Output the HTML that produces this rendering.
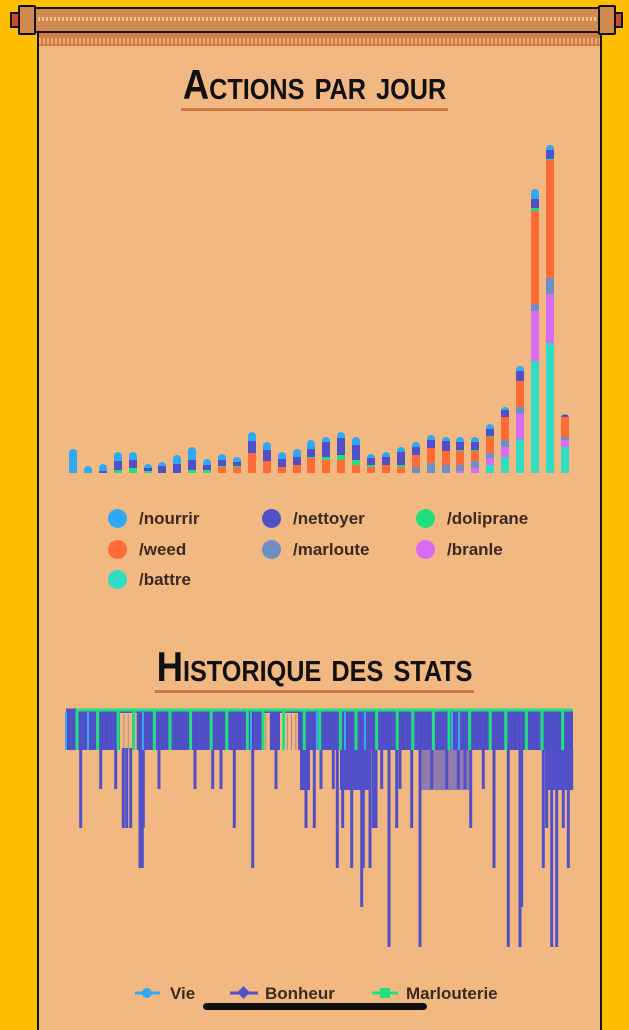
<!DOCTYPE html>
<html><head><meta charset="utf-8">
<style>
html,body{margin:0;padding:0;}
body{width:629px;height:1024px;background:#ffbf00;position:relative;overflow:hidden;font-family:"Liberation Sans",sans-serif;}
.parch{position:absolute;left:37px;top:20px;width:561px;height:1010px;background:#f2b882;border-left:2px solid #111;border-right:2px solid #111;}
.band{position:absolute;left:39px;top:32px;width:561px;height:14px;background:#cf7f45;}
.band2{position:absolute;left:39px;top:38px;width:561px;height:6px;background:repeating-linear-gradient(90deg,#e9a877 0 2px,#cf7f45 2px 4px);}
.rod{position:absolute;left:30px;top:7px;width:570px;height:22px;background:#d08a4f;border:2px solid #111;}
.rod i{position:absolute;left:2px;right:2px;top:8px;height:4px;background:repeating-linear-gradient(90deg,#f4c49a 0 2px,#d08a4f 2px 4px);}
.cap{position:absolute;top:5px;width:14px;height:26px;background:#d08a4f;border:2px solid #111;border-radius:2px;}
.knob{position:absolute;top:12px;width:6px;height:12px;background:#c84a3a;border:2px solid #111;}
.title{position:absolute;left:0;width:629px;text-align:center;font-family:"Liberation Sans",sans-serif;font-weight:bold;font-variant:small-caps;color:#111;letter-spacing:0px;transform:scaleX(0.87);transform-origin:center;}
.title span{border-bottom:3px solid #cc7a44;padding:0 2px;}
.leg{position:absolute;font-size:17px;color:#3a2a20;font-weight:bold;}
.dot{position:absolute;width:19px;height:19px;border-radius:50%;}
</style></head><body>
<div class="parch"></div>
<div class="band"></div><div class="band2"></div>
<div class="rod"><i></i></div>
<div class="knob" style="left:10px"></div><div class="cap" style="left:18px"></div>
<div class="knob" style="left:613px"></div><div class="cap" style="left:598px"></div>
<div class="title" style="top:62px;font-size:42px;line-height:46px;"><span>Actions par jour</span></div>
<div id="bars"></div>
<div class="dot" style="left:108px;top:509px;background:#2eaaf5"></div><div class="leg" style="left:139px;top:509px">/nourrir</div>
<div class="dot" style="left:262px;top:509px;background:#5150c8"></div><div class="leg" style="left:293px;top:509px">/nettoyer</div>
<div class="dot" style="left:416px;top:509px;background:#1fe07a"></div><div class="leg" style="left:447px;top:509px">/doliprane</div>
<div class="dot" style="left:108px;top:540px;background:#ff6a35"></div><div class="leg" style="left:139px;top:540px">/weed</div>
<div class="dot" style="left:262px;top:540px;background:#6d8fc4"></div><div class="leg" style="left:293px;top:540px">/marloute</div>
<div class="dot" style="left:416px;top:540px;background:#d86cf2"></div><div class="leg" style="left:447px;top:540px">/branle</div>
<div class="dot" style="left:108px;top:570px;background:#2fdcc4"></div><div class="leg" style="left:139px;top:570px">/battre</div>
<div class="title" style="top:644px;font-size:42px;line-height:46px;"><span>Historique des stats</span></div>
<svg id="hist" style="position:absolute;left:0;top:0" width="629" height="1024"></svg>
<svg style="position:absolute;left:0;top:980px" width="629" height="30">
<line x1="135" y1="13" x2="160" y2="13" stroke="#2eaaf5" stroke-width="3"/><circle cx="147" cy="13" r="5" fill="#2eaaf5"/>
<text x="170" y="19" font-size="17" fill="#3a2a20" font-weight="bold" font-family="Liberation Sans">Vie</text>
<line x1="230" y1="13" x2="258" y2="13" stroke="#5150c8" stroke-width="3"/><rect x="239" y="8" width="9" height="9" fill="#5150c8" transform="rotate(45 243.5 12.5)"/>
<text x="265" y="19" font-size="17" fill="#3a2a20" font-weight="bold" font-family="Liberation Sans">Bonheur</text>
<line x1="372" y1="13" x2="398" y2="13" stroke="#1fe07a" stroke-width="3"/><rect x="380" y="8" width="10" height="10" fill="#1fe07a"/>
<text x="406" y="19" font-size="17" fill="#3a2a20" font-weight="bold" font-family="Liberation Sans">Marlouterie</text>
</svg>
<div style="position:absolute;left:203px;top:1003px;width:224px;height:7px;border-radius:4px;background:#111"></div>
<script>
var C=["#2fdcc4","#d86cf2","#6d8fc4","#ff6a35","#1fe07a","#5150c8","#2eaaf5"];
var D=[[0,0,0,0,0,0,24],[0,0,0,0,0,0,7],[0,0,0,0,0,2,7],[0,0,0,0,3,9,9],[0,0,0,0,5,8,8],[0,0,0,0,2,3,4],[0,0,0,0,0,7,4],[0,0,0,0,0,9,9],[0,0,0,0,3,10,13],[0,0,0,0,3,5,6],[0,0,0,6,1,6,6],[0,0,0,6,1,4,5],[0,0,0,20,0,12,9],[0,0,0,12,0,11,8],[0,0,0,6,0,8,7],[0,0,0,8,0,8,8],[0,0,0,15,1,8,9],[0,0,0,13,3,15,5],[0,0,0,13,5,17,6],[0,0,0,8,5,15,8],[0,0,0,6,2,7,4],[0,0,0,8,0,8,5],[0,0,0,6,2,13,5],[0,0,6,12,0,8,5],[0,0,10,15,0,8,5],[0,0,8,14,0,10,4],[0,2,6,14,1,8,5],[0,5,7,10,1,8,5],[8,7,5,16,1,7,5],[16,10,7,23,0,7,3],[34,25,7,26,0,10,5],[112,50,7,93,3,9,10],[130,49,16,118,1,9,5],[26,7,3,20,0,2,1]];
var h="";D.forEach(function(b,i){var x=69+i*14.9,y=473;var t=b.reduce(function(a,c){return a+c},0);h+='<div style="position:absolute;left:'+x.toFixed(1)+'px;top:'+(y-t)+'px;width:8px;height:'+t+'px;border-radius:4px 4px 0 0;overflow:hidden;display:flex;flex-direction:column-reverse">';b.forEach(function(v,k){if(v)h+='<div style="height:'+v+'px;background:'+C[k]+';flex:none"></div>'});h+='</div>'});
document.getElementById("bars").innerHTML=h;
var s='<rect x="66" y="711" width="507" height="39" fill="#5150c8"/>';
[[120,137],[262,270],[280,290],[290,298]].forEach(function(g){s+='<rect x="'+g[0]+'" y="713" width="'+(g[1]-g[0])+'" height="37" fill="#f2b882"/>'});
for(var x=68;x<573;x+=4.3){s+='<line x1="'+x.toFixed(1)+'" y1="714" x2="'+x.toFixed(1)+'" y2="750" stroke="#4746b8" stroke-width="0.8" opacity="0.5"/>'}
var L=[710,750,789,828,868,907,947];
var drops=[[62,3],[122,2],[167,2],[190,3],[200,3],[212,3],[240,4],[247,4],[250,3],[297,2],[405,2],[458,2],[483,2],[523,3],[578,4],[648,2],[738,3],[763,3],[783,2],[820,2],[832,4],[848,3],[875,4],[880,2],[905,5],[910,4],[930,4],[940,3],[948,3],[965,2],[987,6],[1010,3],[1020,2],[1055,3],[1080,6],[1115,2],[1160,2],[1195,2],[1215,2],[1232,3],[1270,2],[1302,4],[1345,6],[1380,6],[1385,5],[1450,4],[1460,3],[1475,6],[1490,6],[1510,3],[1525,4],[1535,2]];
drops.forEach(function(d){var x=(60+d[0]/3).toFixed(1);s+='<line x1="'+x+'" y1="748" x2="'+x+'" y2="'+L[d[1]]+'" stroke="#5150c8" stroke-width="3"/>'});
s+='<rect x="545" y="750" width="28" height="40" fill="#5150c8"/><rect x="300" y="750" width="10" height="40" fill="#5150c8"/><rect x="340" y="750" width="30" height="40" fill="#5150c8"/><rect x="420" y="750" width="50" height="40" fill="#5150c8" opacity="0.6"/>';
s+='<line x1="75" y1="710" x2="573" y2="710" stroke="#1fe07a" stroke-width="3"/><line x1="66" y1="710" x2="76" y2="710" stroke="#5150c8" stroke-width="3"/>';
for(var i=0;i<27;i++){var x=(77+i*18.6+((i*7)%5)).toFixed(1);s+='<line x1="'+x+'" y1="710" x2="'+x+'" y2="750" stroke="#1fe07a" stroke-width="3"/>'}
[66,88,143,251,317,345,365,452,459].forEach(function(x){s+='<line x1="'+x+'" y1="712" x2="'+x+'" y2="750" stroke="#3aa8ef" stroke-width="2"/>'});
document.getElementById("hist").innerHTML=s;
</script>
</body></html>
